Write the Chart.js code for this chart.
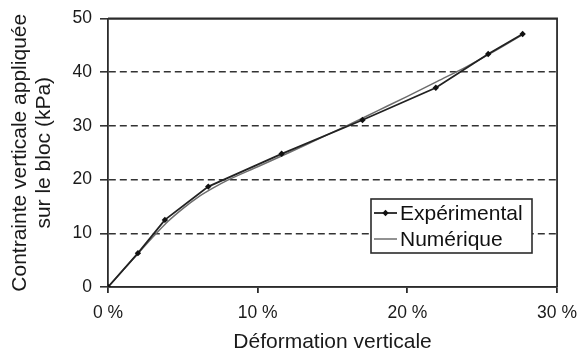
<!DOCTYPE html>
<html>
<head>
<meta charset="utf-8">
<script src="https://cdn.jsdelivr.net/npm/chart.js@4/dist/chart.umd.min.js"></script>
<style>
  html, body { margin: 0; padding: 0; background: #fff; }
  #wrap { width: 587px; height: 353px; }
</style>
</head>
<body>
<div id="wrap"><canvas id="c" width="587" height="353"></canvas></div>
<script>
// Vertical strain (%) and applied vertical stress on the block (kPa)
const expStrain = [0, 2.0, 3.8, 6.7, 11.6, 17.0, 21.9, 25.4, 27.7];
const expStress = [0, 6.3, 12.5, 18.7, 24.8, 31.1, 37.1, 43.4, 47.1];

const numStrain = [0, 1, 2, 3, 4, 5, 6, 7, 8, 10, 12, 14, 16, 18, 20, 22, 24, 26, 27.7];
const numStress = [0, 3.1, 6.2, 9.3, 12.2, 14.6, 16.7, 18.4, 19.9, 22.4, 24.9, 27.5, 30.1, 32.8, 35.5, 38.3, 41.1, 44.2, 47.0];

const seriesNames = ['Expérimental', 'Numérique'];
const xTitle = 'Déformation verticale';
const yTitle = ['Contrainte verticale appliquée', 'sur le bloc (kPa)'];

const FONT = '"Liberation Sans", Arial, sans-serif';
const INK = '#2b2b2b';

const toXY = (xs, ys) => xs.map((x, i) => ({ x, y: ys[i] }));

// Frame on top/right of the plot area plus the boxed legend inside it
const framePlugin = {
  id: 'frameAndLegend',
  afterDatasetsDraw(chart) {
    const { ctx, chartArea: a } = chart;
    ctx.save();
    ctx.strokeStyle = INK;
    ctx.lineWidth = 1.8;
    ctx.beginPath();
    ctx.moveTo(a.left, a.top);
    ctx.lineTo(a.right, a.top);
    ctx.lineTo(a.right, a.bottom);
    ctx.stroke();

    // legend box
    const bx = 371, by = 199, bw = 161, bh = 54;
    ctx.fillStyle = '#fff';
    ctx.fillRect(bx, by, bw, bh);
    ctx.lineWidth = 1.6;
    ctx.strokeStyle = INK;
    ctx.strokeRect(bx, by, bw, bh);

    ctx.font = '21px ' + FONT;
    ctx.textBaseline = 'middle';
    ctx.textAlign = 'left';
    chart.data.datasets.forEach((ds, i) => {
      const cy = by + 14 + i * 26;
      ctx.strokeStyle = ds.borderColor;
      ctx.lineWidth = ds.borderWidth;
      ctx.beginPath();
      ctx.moveTo(bx + 3, cy);
      ctx.lineTo(bx + 26, cy);
      ctx.stroke();
      if (ds.pointRadius > 0) {
        ctx.fillStyle = ds.pointBackgroundColor;
        ctx.beginPath();
        const r = ds.pointRadius;
        ctx.moveTo(bx + 14.5, cy - r);
        ctx.lineTo(bx + 14.5 + r, cy);
        ctx.lineTo(bx + 14.5, cy + r);
        ctx.lineTo(bx + 14.5 - r, cy);
        ctx.closePath();
        ctx.fill();
      }
      ctx.fillStyle = '#111';
      ctx.fillText(ds.label, bx + 29, cy + 1);
    });
    ctx.restore();
  }
};

new Chart(document.getElementById('c'), {
  type: 'scatter',
  data: {
    datasets: [
      {
        label: seriesNames[0],
        data: toXY(expStrain, expStress),
        showLine: true,
        borderColor: '#222',
        borderWidth: 1.8,
        pointStyle: 'rectRot',
        pointRadius: 3.2,
        pointBackgroundColor: '#111',
        pointBorderColor: '#111',
        pointBorderWidth: 0,
        order: 1
      },
      {
        label: seriesNames[1],
        data: toXY(numStrain, numStress),
        showLine: true,
        borderColor: '#6e6e6e',
        borderWidth: 1.5,
        pointRadius: 0,
        cubicInterpolationMode: 'monotone',
        order: 2
      }
    ]
  },
  options: {
    responsive: false,
    animation: false,
    layout: { padding: { top: 16, right: 26, left: 0, bottom: 0 } },
    plugins: { legend: { display: false }, tooltip: { enabled: false } },
    scales: {
      x: {
        type: 'linear',
        min: 0, max: 30,
        afterFit: s => { s.height = 66; },
        ticks: {
          stepSize: 10,
          callback: v => v + ' %',
          color: '#1a1a1a',
          font: { family: FONT, size: 17.5 },
          padding: 10,
          maxRotation: 0
        },
        grid: { drawOnChartArea: false, drawTicks: true, tickLength: 6, color: INK, lineWidth: 1.8 },
        border: { display: true, color: INK, width: 1.8 },
        title: {
          display: true,
          text: xTitle,
          color: '#1a1a1a',
          font: { family: FONT, size: 21, lineHeight: 1 },
          padding: { top: 0, bottom: 0 }
        }
      },
      y: {
        type: 'linear',
        min: 0, max: 50,
        afterFit: s => { s.width = 108; },
        ticks: {
          stepSize: 10,
          color: '#1a1a1a',
          font: { family: FONT, size: 17.5 },
          padding: 8
        },
        grid: {
          drawOnChartArea: true,
          drawTicks: true,
          tickLength: 8,
          color: '#333',
          lineWidth: 1.6
        },
        border: {
          display: true,
          color: INK,
          width: 1.8,
          dash: ctx => (ctx.tick && ctx.tick.value > 0 && ctx.tick.value < 50) ? [7, 4] : []
        },
        title: {
          display: true,
          text: yTitle,
          color: '#1a1a1a',
          font: { family: FONT, size: 21, lineHeight: 1.15 },
          padding: { top: 8, bottom: 0 }
        }
      }
    }
  },
  plugins: [framePlugin]
});
</script>
</body>
</html>
